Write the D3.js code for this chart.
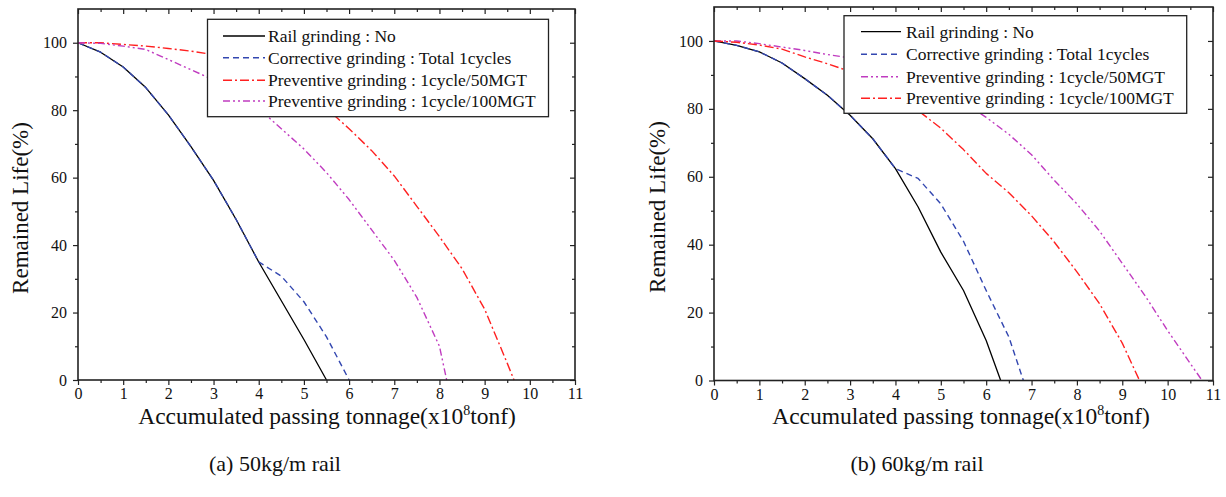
<!DOCTYPE html>
<html>
<head>
<meta charset="utf-8">
<script src="https://cdn.jsdelivr.net/npm/d3@7"></script>
<style>
  body { margin: 0; background: #fff; }
  svg { display: block; }
  text { font-family: "Liberation Serif", "Times New Roman", serif; fill: #111; }
</style>
</head>
<body>
<svg id="fig" width="1226" height="497"></svg>
<script>
// ---- (a) 50kg/m rail ----
const aNoX   = [0, 0.5, 1, 1.5, 2, 2.5, 3, 3.5, 4, 4.5, 5, 5.5];
const aNoY   = [100, 97.2, 92.8, 86.7, 78.6, 69.2, 59.2, 47.6, 35, 23.5, 12, 0];
const aCorrX = [0, 0.5, 1, 1.5, 2, 2.5, 3, 3.5, 4, 4.5, 5, 5.5, 6];
const aCorrY = [100, 97.2, 92.8, 86.7, 78.6, 69.2, 59.2, 47.6, 35, 30.8, 23.2, 12.8, 0];
const aP50X  = [0, 0.5, 1, 1.5, 2, 2.5, 3, 3.5, 4, 4.5, 5, 5.5, 6, 6.5, 7, 7.5, 8, 8.5, 9, 9.5, 9.65];
const aP50Y  = [100, 100, 99.5, 99, 98.3, 97.5, 96.5, 95, 93, 89.5, 85.5, 80.5, 74.5, 68, 60.5, 51.5, 42.5, 33, 21, 5, 0];
const aP100X = [0, 0.5, 1, 1.5, 2, 2.5, 3, 3.5, 4, 4.5, 5, 5.5, 6, 6.5, 7, 7.5, 8, 8.16];
const aP100Y = [100, 99.8, 99, 98, 95, 92, 89, 85, 80.5, 74.5, 68.5, 61.5, 53.5, 44.5, 35.5, 24.5, 10, 0];

// ---- (b) 60kg/m rail ----
const bNoX   = [0, 0.5, 1, 1.5, 2, 2.5, 3, 3.5, 4, 4.5, 5, 5.5, 6, 6.32];
const bNoY   = [100, 98.7, 96.8, 93.5, 88.9, 84, 78.1, 71.2, 62.4, 51.1, 37.8, 26.5, 11.8, 0];
const bCorrX = [0, 0.5, 1, 1.5, 2, 2.5, 3, 3.5, 4, 4.5, 5, 5.5, 6, 6.5, 6.82];
const bCorrY = [100, 98.7, 96.8, 93.5, 88.9, 84, 78.1, 71.2, 62.4, 59.5, 52, 41, 26.5, 12.8, 0];
const bP50X  = [0, 0.5, 1, 1.5, 2, 2.5, 3, 3.5, 4, 4.5, 5, 5.5, 6, 6.5, 7, 7.5, 8, 8.5, 9, 9.5, 10, 10.5, 10.76];
const bP50Y  = [100, 100, 99.2, 98.2, 97.2, 96, 95, 93, 91, 88.5, 85.5, 82, 77.5, 72.5, 66.5, 59, 52, 44, 34.5, 25, 14.7, 5, 0];
const bP100X = [0, 0.5, 1, 1.5, 2, 2.5, 3, 3.5, 4, 4.5, 5, 5.5, 6, 6.5, 7, 7.5, 8, 8.5, 9, 9.38];
const bP100Y = [100, 99.6, 98.8, 97.6, 95.3, 93.3, 91, 88, 84, 79.5, 74.3, 68, 61, 55.3, 48.5, 40.8, 32, 22.6, 11, 0];

// ---- axes and labels ----
const xMajorTicks = [0, 1, 2, 3, 4, 5, 6, 7, 8, 9, 10, 11];
const xMinorTicks = [0.5, 1.5, 2.5, 3.5, 4.5, 5.5, 6.5, 7.5, 8.5, 9.5, 10.5];
const yMajorTicks = [0, 20, 40, 60, 80, 100];
const yMinorTicks = [10, 30, 50, 70, 90];
const yTitle = "Remained Life(%)";
const xTitleMain = "Accumulated passing tonnage(x10";
const xTitleSup = "8";
const xTitleEnd = "tonf)";

const nameNo = "Rail grinding : No";
const nameCorr = "Corrective grinding : Total 1cycles";
const name50 = "Preventive grinding : 1cycle/50MGT";
const name100 = "Preventive grinding : 1cycle/100MGT";

// line styles
const solidBlack   = { color: "#000000", dash: null,          width: 1.3 };
const dashedBlue   = { color: "#3347b0", dash: "6,4",         width: 1.4 };
const dashDotRed   = { color: "#ff2020", dash: "9,3,2,3",     width: 1.4 };
const dashDotDotMg = { color: "#c03cc0", dash: "7,3,2,3,2,3", width: 1.4 };

const panels = [
  {
    caption: "(a) 50kg/m rail",
    left: 78, right: 575, top: 9, bottom: 380,
    yTitleX: 20, yTitleY: 208,
    xTitleX: 327, captionX: 275,
    legend: { x: 207.5, y: 19.3, w: 341, h: 97.4, rows: [36, 57.7, 80.2, 101], sw0: 223, sw1: 265, tx: 268 },
    series: [
      { x: aNoX,   y: aNoY,   st: solidBlack,   name: nameNo },
      { x: aCorrX, y: aCorrY, st: dashedBlue,   name: nameCorr },
      { x: aP50X,  y: aP50Y,  st: dashDotRed,   name: name50 },
      { x: aP100X, y: aP100Y, st: dashDotDotMg, name: name100 }
    ]
  },
  {
    caption: "(b) 60kg/m rail",
    left: 714, right: 1213, top: 7, bottom: 380.5,
    yTitleX: 657, yTitleY: 207,
    xTitleX: 961, captionX: 917,
    legend: { x: 844, y: 15.7, w: 342.7, h: 97.6, rows: [31.7, 54.3, 76.7, 98.3], sw0: 861, sw1: 901, tx: 906 },
    series: [
      { x: bNoX,   y: bNoY,   st: solidBlack,   name: nameNo },
      { x: bCorrX, y: bCorrY, st: dashedBlue,   name: nameCorr },
      { x: bP50X,  y: bP50Y,  st: dashDotDotMg, name: name50 },
      { x: bP100X, y: bP100Y, st: dashDotRed,   name: name100 }
    ]
  }
];

const svg = d3.select("#fig");

function styleAxis(g) {
  g.select(".domain").remove();
  g.selectAll(".tick line").attr("stroke", "#222").attr("stroke-width", 1.2);
  g.selectAll(".tick text").attr("font-size", 16).attr("fill", "#111")
    .attr("font-family", '"Liberation Serif", "Times New Roman", serif');
}

function drawPanel(p) {
  const x = d3.scaleLinear().domain([0, 11]).range([p.left, p.right]);
  const y = d3.scaleLinear().domain([0, 110]).range([p.bottom, p.top]);
  const g = svg.append("g");

  // curves
  const line = d3.line().x(d => x(d[0])).y(d => y(d[1]));
  p.series.forEach(s => {
    g.append("path")
      .datum(d3.zip(s.x, s.y))
      .attr("d", line)
      .attr("fill", "none")
      .attr("stroke", s.st.color)
      .attr("stroke-width", s.st.width)
      .attr("stroke-dasharray", s.st.dash)
      .attr("stroke-linejoin", "round");
  });

  // bottom axis: outward ticks with labels
  g.append("g").attr("transform", `translate(0,${p.bottom})`)
    .call(d3.axisBottom(x).tickValues(xMajorTicks).tickSize(5).tickPadding(3).tickFormat(d3.format("d")))
    .call(styleAxis);
  g.append("g").attr("transform", `translate(0,${p.bottom})`)
    .call(d3.axisBottom(x).tickValues(xMinorTicks).tickSize(3).tickFormat(""))
    .call(styleAxis);
  // top axis: inward ticks
  g.append("g").attr("transform", `translate(0,${p.top})`)
    .call(d3.axisTop(x).tickValues(xMajorTicks).tickSize(-5).tickFormat(""))
    .call(styleAxis);
  g.append("g").attr("transform", `translate(0,${p.top})`)
    .call(d3.axisTop(x).tickValues(xMinorTicks).tickSize(-3).tickFormat(""))
    .call(styleAxis);
  // left axis: outward ticks with labels
  g.append("g").attr("transform", `translate(${p.left},0)`)
    .call(d3.axisLeft(y).tickValues(yMajorTicks).tickSize(5).tickPadding(6).tickFormat(d3.format("d")))
    .call(styleAxis);
  g.append("g").attr("transform", `translate(${p.left},0)`)
    .call(d3.axisLeft(y).tickValues(yMinorTicks).tickSize(3).tickFormat(""))
    .call(styleAxis);
  // right axis: inward ticks
  g.append("g").attr("transform", `translate(${p.right},0)`)
    .call(d3.axisRight(y).tickValues(yMajorTicks).tickSize(-5).tickFormat(""))
    .call(styleAxis);
  g.append("g").attr("transform", `translate(${p.right},0)`)
    .call(d3.axisRight(y).tickValues(yMinorTicks).tickSize(-3).tickFormat(""))
    .call(styleAxis);

  // frame
  g.append("rect")
    .attr("x", p.left).attr("y", p.top)
    .attr("width", p.right - p.left).attr("height", p.bottom - p.top)
    .attr("fill", "none").attr("stroke", "#222").attr("stroke-width", 1.6);

  // legend
  const L = p.legend;
  const lg = g.append("g");
  lg.append("rect")
    .attr("x", L.x).attr("y", L.y).attr("width", L.w).attr("height", L.h)
    .attr("fill", "#fff").attr("stroke", "#222").attr("stroke-width", 1.3);
  p.series.forEach((s, i) => {
    const ry = L.rows[i];
    lg.append("line")
      .attr("x1", L.sw0).attr("x2", L.sw1).attr("y1", ry).attr("y2", ry)
      .attr("stroke", s.st.color).attr("stroke-width", s.st.width)
      .attr("stroke-dasharray", s.st.dash);
    lg.append("text")
      .attr("x", L.tx).attr("y", ry + 6)
      .attr("font-size", 17.5)
      .text(s.name);
  });

  // axis titles
  g.append("text")
    .attr("transform", `translate(${p.yTitleX},${p.yTitleY}) rotate(-90)`)
    .attr("text-anchor", "middle")
    .attr("dominant-baseline", "central")
    .attr("font-size", 23)
    .text(yTitle);

  const xt = g.append("text")
    .attr("x", p.xTitleX).attr("y", 424)
    .attr("text-anchor", "middle")
    .attr("font-size", 23.5);
  xt.append("tspan").text(xTitleMain);
  xt.append("tspan").attr("font-size", 14).attr("dy", -9).text(xTitleSup);
  xt.append("tspan").attr("dy", 9).text(xTitleEnd);

  // caption
  g.append("text")
    .attr("x", p.captionX).attr("y", 471)
    .attr("text-anchor", "middle")
    .attr("font-size", 22)
    .text(p.caption);
}

panels.forEach(drawPanel);
</script>
</body>
</html>
